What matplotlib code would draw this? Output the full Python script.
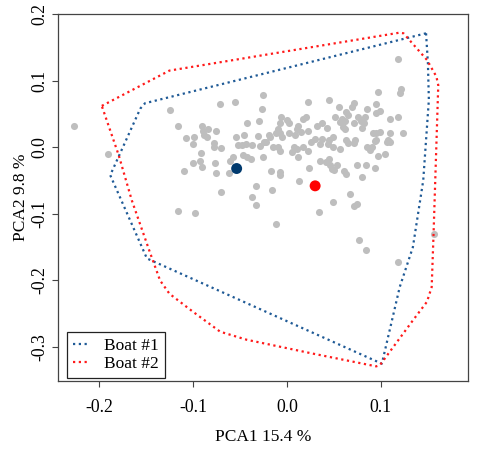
import matplotlib
matplotlib.use("Agg")
import matplotlib.pyplot as plt

plt.rcParams['font.family'] = ['Liberation Serif', 'DejaVu Serif']
plt.rcParams['axes.unicode_minus'] = False

# individual samples (PCA scores)
pc1 = [0.118, 0.097, 0.121, 0.120, -0.124, -0.071, -0.055, -0.025, -0.027, 0.022,
       0.045, 0.055, 0.071, 0.069, 0.085, 0.095, 0.099, 0.095, 0.063, 0.065,
       -0.116, -0.090, -0.084, -0.076, -0.089, -0.107, -0.099, -0.100, -0.088, -0.085,
       -0.078, -0.078, -0.070, -0.054, -0.046, -0.052, -0.048, -0.044, -0.043, -0.047,
       -0.037, -0.031, -0.029, -0.024, -0.022, -0.019, -0.015, -0.012, -0.007, -0.010,
       -0.007, -0.006, 0.000, 0.002, -0.030, -0.042, 0.012, 0.017, 0.020, 0.032,
       0.037, 0.043, 0.051, 0.056, 0.059, 0.062, 0.062, 0.060, 0.071, 0.076,
       0.079, 0.083, 0.082, 0.080, 0.092, 0.095, 0.099, 0.110, 0.118, 0.110,
       0.123, 0.108, 0.106, 0.110, 0.090, 0.088, 0.085, 0.094, 0.095, 0.072,
       0.071, 0.065, 0.063, 0.056, 0.049, 0.049, 0.045, 0.044, 0.037, 0.035,
       0.030, 0.026, 0.022, 0.022, 0.017, 0.011, 0.007, 0.005, 0.012, 0.011,
       0.015, 0.009, 0.002, -0.005, -0.009, -0.007, -0.018, -0.038, -0.057, -0.061,
       -0.062, -0.075, -0.077, -0.090, -0.100, -0.093, -0.110, -0.091, -0.026, -0.017,
       -0.007, -0.007, 0.013, 0.023, 0.035, 0.042, 0.045, 0.046, 0.048, 0.050,
       0.053, 0.061, 0.063, 0.075, 0.080, 0.084, 0.094, 0.097, 0.104, -0.227,
       -0.190, -0.033, -0.016, -0.070, -0.037, -0.033, 0.067, 0.049, 0.071, 0.075,
       0.034, -0.116, -0.098, -0.012, 0.077, 0.084, 0.118, 0.156]
pc2 = [0.133, 0.083, 0.087, 0.082, 0.056, 0.065, 0.068, 0.078, 0.058, 0.068,
       0.071, 0.060, 0.066, 0.061, 0.058, 0.065, 0.054, 0.051, 0.053, 0.048,
       0.032, 0.032, 0.028, 0.024, 0.024, 0.014, 0.016, 0.005, 0.018, 0.015,
       0.007, 0.000, -0.001, 0.015, 0.018, 0.004, 0.003, 0.005, -0.015, -0.011,
       0.003, 0.017, 0.002, 0.008, 0.008, 0.019, 0.000, 0.021, 0.021, 0.028,
       0.037, 0.046, 0.041, 0.037, 0.040, 0.036, 0.032, 0.043, 0.045, 0.032,
       0.036, 0.029, 0.045, 0.038, 0.042, 0.040, 0.027, 0.031, 0.036, 0.046,
       0.040, 0.045, 0.036, 0.029, 0.021, 0.022, 0.023, 0.042, 0.045, 0.022,
       0.022, 0.011, 0.008, 0.008, 0.000, -0.004, 0.000, 0.010, 0.011, 0.011,
       0.007, 0.006, 0.011, -0.002, 0.000, 0.016, 0.011, 0.005, 0.013, 0.005,
       0.013, 0.008, 0.024, -0.005, 0.000, -0.002, 0.000, -0.007, -0.015, 0.027,
       0.023, 0.018, 0.021, 0.016, 0.000, -0.005, 0.016, -0.017, -0.015, -0.021,
       -0.038, -0.039, -0.023, -0.030, -0.023, -0.020, -0.035, -0.008, -0.015, -0.036,
       -0.037, -0.042, -0.050, -0.031, -0.020, -0.022, -0.017, -0.027, -0.032, -0.034,
       -0.027, -0.035, -0.040, -0.026, -0.045, -0.027, -0.031, -0.013, -0.010, 0.032,
       -0.010, -0.058, -0.065, -0.068, -0.075, -0.087, -0.070, -0.082, -0.088, -0.085,
       -0.098, -0.096, -0.099, -0.116, -0.140, -0.155, -0.173, -0.130]

# group centroids
centroid_x = [-0.0535, 0.030]
centroid_y = [-0.032, -0.058]

# convex hulls of each boat
hull1_x = [0.148, 0.150, 0.151, 0.145, 0.134, 0.120, 0.101, -0.149, -0.188, -0.156, -0.151, 0.148]
hull1_y = [0.171, 0.126, 0.071, -0.050, -0.150, -0.210, -0.325, -0.167, -0.042, 0.058, 0.066, 0.171]
hull2_x = [-0.197, -0.125, 0.120, 0.124, 0.149, 0.159, 0.161, 0.156, 0.154, 0.149, 0.134,
           0.099, 0.095, 0.028, -0.043, -0.071, -0.100, -0.125, -0.135, -0.146, -0.165, -0.179, -0.197]
hull2_y = [0.062, 0.115, 0.172, 0.171, 0.131, 0.106, 0.093, -0.130, -0.210, -0.232, -0.260,
           -0.327, -0.329, -0.310, -0.289, -0.277, -0.247, -0.220, -0.200, -0.157, -0.080, -0.012, 0.062]

blue = '#1f5a96'
red = '#ff1a1a'

fig = plt.figure(figsize=(4.78, 4.51), dpi=100)
ax = fig.add_axes([0.1213, 0.1552, 0.8577, 0.8138])

ax.scatter(pc1, pc2, s=26, color='#bebebe', linewidths=0, zorder=2)
ax.plot(hull1_x, hull1_y, linestyle=(0, (1, 1.6)), color=blue, lw=1.6, label='Boat #1', zorder=3)
ax.plot(hull2_x, hull2_y, linestyle=(0, (1, 1.6)), color=red, lw=1.6, label='Boat #2', zorder=3)
ax.scatter(centroid_x, centroid_y, s=62, color=['#003a6e', '#ff0000'], linewidths=0, zorder=4)

ax.set_xlim(-0.2436, 0.1926)
ax.set_ylim(-0.351, 0.2)
ax.set_xticks([-0.2, -0.1, 0.0, 0.1])
ax.set_xticklabels(['-0.2', '-0.1', '0.0', '0.1'])
ax.set_yticks([-0.3, -0.2, -0.1, 0.0, 0.1, 0.2])
ax.set_yticklabels(['-0.3', '-0.2', '-0.1', '0.0', '0.1', '0.2'], rotation=90, va='center')
ax.tick_params(direction='out', length=4, width=0.8, color='#444444', labelsize=12.8)
ax.tick_params(axis='x', pad=9)
ax.tick_params(axis='y', pad=3)
for s in ax.spines.values():
    s.set_color('#444444')
    s.set_linewidth(0.9)

ax.set_xlabel('PCA1 15.4 %', fontsize=12.5, labelpad=9)
ax.set_ylabel('PCA2 9.8 %', fontsize=12.5, labelpad=1.5)

leg = ax.legend(loc='lower left', bbox_to_anchor=(0.022, 0.008), borderaxespad=0,
                fontsize=12.5, handlelength=1.0, handletextpad=0.8, labelspacing=0.1,
                fancybox=False, framealpha=1, edgecolor='#222222', borderpad=0.35)
leg.get_frame().set_linewidth(0.9)

fig.savefig('out.png', dpi=100)
